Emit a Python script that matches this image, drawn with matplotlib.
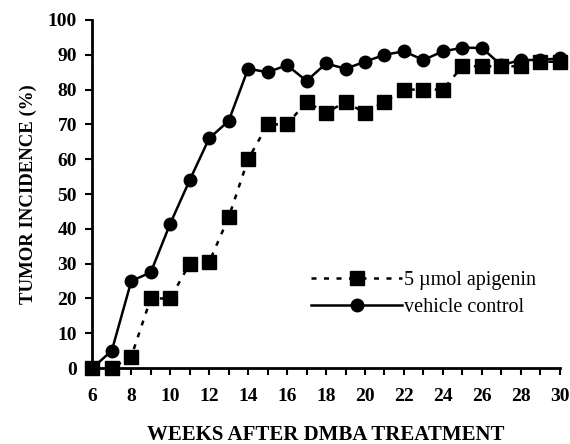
import matplotlib
matplotlib.use("Agg")
import matplotlib.pyplot as plt

weeks = list(range(6, 31))
control = [0, 5, 25, 27.5, 41.5, 54, 66, 71, 86, 85, 87, 82.5, 87.5, 86, 88, 90, 91,
           88.5, 91, 92, 92, 87, 88.5, 88.5, 89]
apigenin = [0, 0, 3.3, 20, 20, 30, 30.5, 43.3, 60, 70, 70, 76.5, 73.3, 76.5, 73.3,
            76.5, 80, 80, 80, 86.7, 86.7, 86.7, 86.7, 88, 88]
xticks = list(range(6, 31, 2))
yticks = list(range(0, 101, 10))

plt.rcParams['font.family'] = ['Liberation Serif', 'DejaVu Serif']

fig = plt.figure(figsize=(5.7, 4.44), dpi=100)
ax = fig.add_axes([0.162, 0.171, 0.82, 0.784])

ax.plot(weeks, apigenin, color='black', linestyle=(0, (2, 3)), linewidth=1.8,
        marker='s', markersize=9.5, label='5 µmol apigenin')
ax.plot(weeks, control, color='black', linestyle='-', linewidth=1.8,
        marker='o', markersize=9, label='vehicle control')

ax.set_xlim(6, 30)
ax.set_ylim(0, 100)
ax.set_xticks(list(range(6, 31)))
ax.set_xticklabels([str(w) if w in xticks else '' for w in range(6, 31)])
ax.set_yticks(yticks)
ax.spines['top'].set_visible(False)
ax.spines['right'].set_visible(False)
ax.spines['left'].set_linewidth(2)
ax.spines['bottom'].set_linewidth(2)
ax.tick_params(axis='both', direction='out', width=1.5, length=5, labelsize=14)
ax.tick_params(axis='x', pad=9)
ax.tick_params(axis='y', pad=6)
for t in ax.get_xticklabels() + ax.get_yticklabels():
    t.set_fontweight('bold')
for l in ax.lines:
    l.set_clip_on(False)

ax.set_xlabel('WEEKS AFTER DMBA TREATMENT', fontsize=15, fontweight='bold', labelpad=15)
ax.set_ylabel('TUMOR INCIDENCE (%)', fontsize=13.5, fontweight='bold', labelpad=8)

ax.legend(loc='upper left', bbox_to_anchor=(0.43, 0.33), frameon=False, fontsize=14.5,
          handlelength=4.5, handletextpad=0.1, labelspacing=0.35)

fig.savefig('out.png', dpi=100)
